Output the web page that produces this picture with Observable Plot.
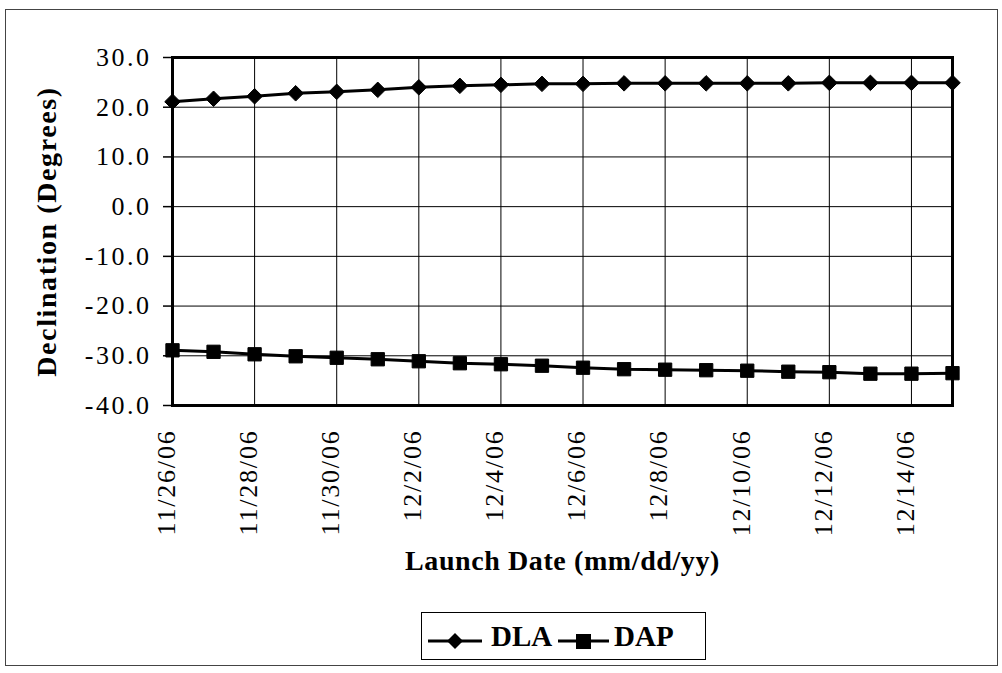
<!DOCTYPE html>
<html><head><meta charset="utf-8">
<script src="https://cdn.jsdelivr.net/npm/d3@7"></script>
<script src="https://cdn.jsdelivr.net/npm/@observablehq/plot@0.6"></script>
<style>
body{margin:0;background:#fff;}
#wrap{position:relative;width:1002px;height:673px;overflow:hidden;font-family:"Liberation Serif","Times New Roman",serif;background:#fff;}
#frame{position:absolute;left:5px;top:9px;width:993px;height:657px;border:1px solid #444;box-sizing:border-box;pointer-events:none;}
#chart svg{display:block;}
#chart g[aria-label="y-axis tick label"] text{letter-spacing:2.5px;}
#chart g[aria-label="x-axis tick label"] text{letter-spacing:1.8px;}
#legend{position:absolute;left:421px;top:612px;width:285px;height:48px;border:1px solid #000;box-sizing:border-box;background:#fff;}
</style>
</head><body>
<div id="wrap"><div id="frame"></div><div id="chart"></div><div id="legend"></div></div>
<script>
const dates = ["2006-11-26","2006-11-27","2006-11-28","2006-11-29","2006-11-30","2006-12-01","2006-12-02","2006-12-03","2006-12-04","2006-12-05","2006-12-06","2006-12-07","2006-12-08","2006-12-09","2006-12-10","2006-12-11","2006-12-12","2006-12-13","2006-12-14","2006-12-15"];
const dla = [21.1,21.7,22.2,22.8,23.1,23.5,24.0,24.3,24.5,24.7,24.7,24.8,24.8,24.8,24.8,24.8,24.9,24.9,24.9,24.9];
const dap = [-28.9,-29.2,-29.7,-30.1,-30.4,-30.7,-31.1,-31.5,-31.7,-32.0,-32.4,-32.7,-32.8,-32.9,-33.0,-33.2,-33.3,-33.6,-33.6,-33.5];
const xTickLabels = ["11/26/06","11/28/06","11/30/06","12/2/06","12/4/06","12/6/06","12/8/06","12/10/06","12/12/06","12/14/06"];
const yTicks = [-40,-30,-20,-10,0,10,20,30];
const seriesNames = ["DLA","DAP"];

const parse = d3.utcParse("%Y-%m-%d");
const parseTick = d3.utcParse("%m/%d/%y");
const fmt = d3.utcFormat("%-m/%-d/%y");
const xTicks = xTickLabels.map(parseTick);
const rowsDLA = dates.map((d,i)=>({date:parse(d), value:dla[i]}));
const rowsDAP = dates.map((d,i)=>({date:parse(d), value:dap[i]}));

const chart = Plot.plot({
  width:1002, height:600,
  marginLeft:172, marginRight:50, marginTop:57, marginBottom:195,
  style:{fontFamily:'"Liberation Serif","Times New Roman",serif', fontSize:"26px", color:"#000", background:"transparent", overflow:"visible"},
  x:{type:"utc", domain:[parse(dates[0]), parse(dates[dates.length-1])]},
  y:{domain:[-40,30]},
  marks:[
    Plot.gridX(xTicks, {stroke:"#000", strokeOpacity:1, strokeWidth:1}),
    Plot.gridY(yTicks, {stroke:"#000", strokeOpacity:1, strokeWidth:1}),
    Plot.axisY(yTicks, {tickFormat:d=>d.toFixed(1), tickSize:9, tickPadding:12, stroke:"#000", strokeWidth:1.5, label:null}),
    Plot.axisX(xTicks, {tickFormat:fmt, tickRotate:-90, tickSize:0, tickPadding:24, dx:-6, label:null}),
    Plot.frame({stroke:"#000", strokeWidth:3}),
    Plot.line(rowsDLA, {x:"date", y:"value", stroke:"#000", strokeWidth:3}),
    Plot.line(rowsDAP, {x:"date", y:"value", stroke:"#000", strokeWidth:3}),
    Plot.dot(rowsDLA, {x:"date", y:"value", symbol:"diamond2", r:7, fill:"#000", stroke:"#000", strokeWidth:1}),
    Plot.dot(rowsDAP, {x:"date", y:"value", symbol:"square", r:7.5, fill:"#000", stroke:"#000", strokeWidth:1}),
    Plot.text(["Declination (Degrees)"], {frameAnchor:"left", textAnchor:"middle", rotate:-90, dx:-125, fontWeight:"bold", fontSize:28, fill:"#000"}),
    Plot.text(["Launch Date (mm/dd/yy)"], {frameAnchor:"bottom", dy:164, fontWeight:"bold", fontSize:28, fill:"#000"})
  ]
});
document.getElementById("chart").appendChild(chart);
const texts = chart.querySelectorAll('g[aria-label="text"] text');
texts[0].style.letterSpacing="1.6px";
texts[1].style.letterSpacing="0.6px";

// legend
const lg = d3.select("#legend").append("svg").attr("width",283).attr("height",46).style("display","block");
lg.append("line").attr("x1",6).attr("x2",60).attr("y1",28).attr("y2",28).attr("stroke","#000").attr("stroke-width",3);
lg.append("path").attr("d","M33,20L41,28L33,36L25,28Z").attr("fill","#000");
lg.append("text").attr("x",69).attr("y",33).text(seriesNames[0]).attr("font-weight","bold").attr("font-size",29).attr("font-family",'"Liberation Serif",serif');
lg.append("line").attr("x1",136).attr("x2",187).attr("y1",28).attr("y2",28).attr("stroke","#000").attr("stroke-width",3);
lg.append("rect").attr("x",154).attr("y",21).attr("width",15).attr("height",15).attr("fill","#000");
lg.append("text").attr("x",192).attr("y",33).text(seriesNames[1]).attr("font-weight","bold").attr("font-size",29).attr("font-family",'"Liberation Serif",serif');
</script>
</body></html>
